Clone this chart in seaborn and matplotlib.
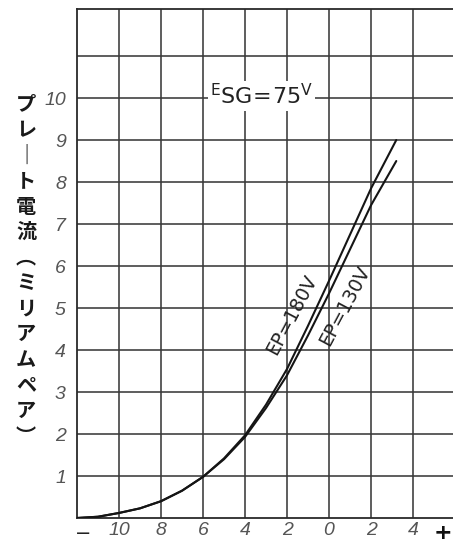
import matplotlib
matplotlib.use("Agg")
import matplotlib.pyplot as plt
import pandas as pd
import seaborn as sns

# Grid bias (V) and plate current (mA) for the two plate voltages
bias_v = [-12, -11, -10, -9, -8, -7, -6, -5, -4, -3, -2, -1, 0, 1, 2, 3.2]
ip_180 = [0.0, 0.03, 0.12, 0.23, 0.40, 0.65, 0.98, 1.42, 1.97, 2.70, 3.55, 4.58, 5.65, 6.75, 7.85, 9.0]
ip_130 = [0.0, 0.03, 0.12, 0.23, 0.40, 0.65, 0.98, 1.40, 1.93, 2.62, 3.40, 4.35, 5.35, 6.40, 7.45, 8.5]
curve_names = ["EP=180V", "EP=130V"]

x_ticks = [-10, -8, -6, -4, -2, 0, 2, 4]
x_tick_labels = ["10", "8", "6", "4", "2", "0", "2", "4"]
y_ticks = [1, 2, 3, 4, 5, 6, 7, 8, 9, 10, 11]
y_tick_labels = ["1", "2", "3", "4", "5", "6", "7", "8", "9", "10", ""]
y_label_chars = list("プレ｜ト電流︵ミリアムペア︶")

sns.set_theme(style="white")
plt.rcParams["font.family"] = ["DejaVu Sans", "Noto Sans CJK JP"]

df = pd.DataFrame({
    "bias": bias_v + bias_v,
    "current": ip_180 + ip_130,
    "EP": [curve_names[0]] * len(bias_v) + [curve_names[1]] * len(bias_v),
})

W, H = 453, 546
fig = plt.figure(figsize=(W / 100, H / 100), dpi=100)
fig.patch.set_facecolor("white")
ax = fig.add_axes([77 / W, 28 / H, 376 / W, 509 / H])

sns.lineplot(data=df, x="bias", y="current", hue="EP", palette=["#151515", "#151515"],
             estimator=None, legend=False, linewidth=1.5, ax=ax, zorder=3)

ax.set_xlim(-12, 5.9)
ax.set_ylim(0, 12.12)
ax.set_xticks(x_ticks)
ax.set_xticklabels(x_tick_labels)
ax.set_yticks(y_ticks)
ax.set_yticklabels(y_tick_labels)
ax.grid(True, color="#3a3a3a", linewidth=1.15)
ax.set_axisbelow(True)
ax.set_xlabel("")
ax.set_ylabel("")

tick_font = ["Liberation Sans Narrow", "Liberation Sans", "DejaVu Sans"]
ax.tick_params(axis="both", length=0, labelcolor="#555555", labelsize=14)
ax.tick_params(axis="x", pad=3)
ax.tick_params(axis="y", pad=8)
for lab in ax.get_xticklabels() + ax.get_yticklabels():
    lab.set_fontfamily(tick_font)
    lab.set_fontstyle("italic")

for side in ["left", "top", "bottom"]:
    ax.spines[side].set_visible(True)
    ax.spines[side].set_color("#2a2a2a")
    ax.spines[side].set_linewidth(1.3)
ax.spines["right"].set_visible(False)

xt = ax.get_xaxis_transform()
ax.text(-11.7, -0.03, "−", transform=xt, ha="center", va="center",
        fontsize=14, color="#222222", clip_on=False)
ax.text(5.4, -0.03, "+", transform=xt, ha="center", va="center",
        fontsize=16, color="#111111", fontweight="bold", clip_on=False)

# Screen-grid voltage annotation
ax.text(-3.2, 10.05, r"${}^{\mathregular{E}}\mathregular{SG\!=\!75}^{\mathregular{V}}$",
        ha="center", va="center", fontsize=16, color="#222222", zorder=4,
        bbox=dict(facecolor="white", edgecolor="none", pad=1.5))

# Curve labels: 180 V on the upper-left side, 130 V on the lower-right side
ax.text(-1.75, 4.85, curve_names[0], rotation=62, rotation_mode="anchor",
        ha="center", va="center", fontsize=13.5, color="#222222", zorder=4)
ax.text(0.75, 5.05, curve_names[1], rotation=62, rotation_mode="anchor",
        ha="center", va="center", fontsize=13.5, color="#222222", zorder=4)

# Vertical axis title, one character per row
y_top, y_bot = 104, 436
step = (y_bot - y_top) / (len(y_label_chars) - 1)
for i, ch in enumerate(y_label_chars):
    fig.text(26 / W, 1 - (y_top + i * step) / H, ch, ha="center", va="center",
             fontsize=14.5, fontweight="bold", color="#1a1a1a",
             family=["Noto Sans CJK JP", "DejaVu Sans"])

fig.savefig("out.png", dpi=100, facecolor="white")
